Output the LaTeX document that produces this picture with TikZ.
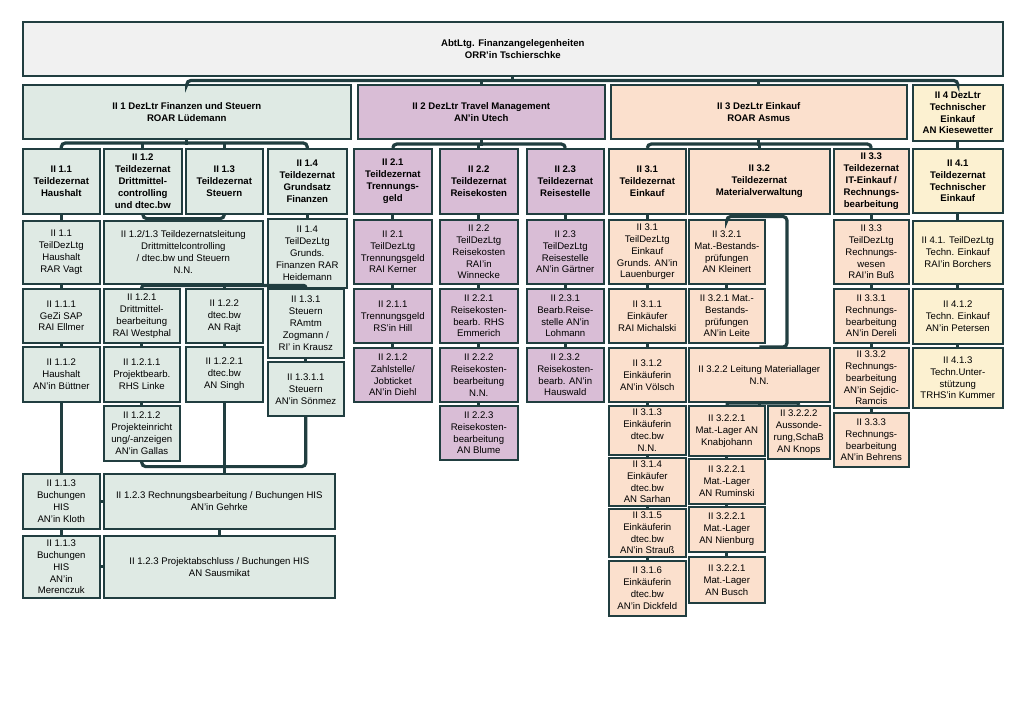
\documentclass[tikz,border=0pt]{standalone}
\usepackage{fontspec}
\setmainfont{Liberation Sans}
\usepackage{xcolor}

\definecolor{dk}{RGB}{33,62,64}
\definecolor{abtc}{RGB}{241,241,241}
\definecolor{fin}{RGB}{223,234,228}
\definecolor{trv}{RGB}{217,189,214}
\definecolor{eink}{RGB}{251,224,205}
\definecolor{tech}{RGB}{252,241,209}

\begin{document}
\begin{tikzpicture}[
	  x=1pt, y=-1pt,
	  %style for connecting lines
	  lnk/.style={line width=3.2pt, draw=dk, rounded corners=4pt},
      % basic style for boxes
      bx/.style={rectangle, draw=dk, line width=1.6pt, anchor=north west, align=center, inner sep=1pt, font=\fontsize{9.6}{11.9}\selectfont},
      % size of a box
      sz/.style 2 args={minimum width=#1, minimum height=#2},
      % bold text for heads
      hd/.style={font=\fontsize{9.6}{11.9}\selectfont\bfseries},
      % fills per Dezernat
      ab/.style={bx, fill=abtc},
      fs/.style={bx, fill=fin},
      tm/.style={bx, fill=trv},
      ek/.style={bx, fill=eink},
      te/.style={bx, fill=tech}]

      \path[fill=white] (0,0) rectangle (1024,724);

      % Abteilung and Dezernate
      \node[ab, hd, sz={980}{54}] (abtl) at (22,21) {AbtLtg. Finanzangelegenheiten\\ORR’in Tschierschke};
      \node[fs, hd, sz={328}{54}] (dz1) at (22,84) {II 1 DezLtr Finanzen und Steuern\\ROAR Lüdemann};
      \node[tm, hd, sz={247}{54}] (dz2) at (357,84) {II 2 DezLtr Travel Management\\AN’in Utech};
      \node[ek, hd, sz={296}{54}] (dz3) at (610,84) {II 3 DezLtr Einkauf\\ROAR Asmus};
      \node[te, hd, sz={90}{56}] (dz4) at (912,84) {II 4 DezLtr\\Technischer\\Einkauf\\AN Kiesewetter};

      % II 1
      \node[fs, hd, sz={77}{65}] (t11) at (22,148) {II 1.1\\Teildezernat\\Haushalt};
      \node[fs, hd, sz={78}{65}] (t12) at (103,148) {II 1.2\\Teildezernat\\Drittmittel-\\controlling\\und dtec.bw};
      \node[fs, hd, sz={77}{65}] (t13) at (185,148) {II 1.3\\Teildezernat\\Steuern};
      \node[fs, hd, sz={79}{65}] (t14) at (267,148) {II 1.4\\Teildezernat\\Grundsatz\\Finanzen};
      \node[fs, sz={77}{63}] (l11) at (22,220) {II 1.1\\TeilDezLtg\\Haushalt\\RAR Vagt};
      \node[fs, sz={159}{63}] (l123) at (103,220) {II 1.2/1.3 Teildezernatsleitung\\Drittmittelcontrolling\\/ dtec.bw und Steuern\\N.N.};
      \node[fs, sz={79}{69}] (l14) at (267,218) {II 1.4\\TeilDezLtg\\Grunds.\\Finanzen RAR\\Heidemann};
      \node[fs, sz={77}{54}] (s111) at (22,288) {II 1.1.1\\GeZi SAP\\RAI Ellmer};
      \node[fs, sz={76}{54}] (s121) at (103,288) {II 1.2.1\\Drittmittel-\\bearbeitung\\RAI Westphal};
      \node[fs, sz={77}{54}] (s122) at (185,288) {II 1.2.2\\dtec.bw\\AN Rajt};
      \node[fs, sz={76}{69}] (s131) at (267,288) {II 1.3.1\\Steuern\\RAmtm\\Zogmann /\\RI’ in Krausz};
      \node[fs, sz={77}{55}] (s112) at (22,346) {II 1.1.2\\Haushalt\\AN’in Büttner};
      \node[fs, sz={76}{55}] (s1211) at (103,346) {II 1.2.1.1\\Projektbearb.\\RHS Linke};
      \node[fs, sz={77}{55}] (s1221) at (185,346) {II 1.2.2.1\\dtec.bw\\AN Singh};
      \node[fs, sz={76}{54}] (s1311) at (267,361) {II 1.3.1.1\\Steuern\\AN’in Sönmez};
      \node[fs, sz={76}{55}] (s1212) at (103,405) {II 1.2.1.2\\Projekteinricht\\ung/-anzeigen\\AN’in Gallas};
      \node[fs, sz={77}{55}] (s113a) at (22,473) {II 1.1.3\\Buchungen\\HIS\\AN’in Kloth};
      \node[fs, sz={231}{55}] (s123a) at (103,473) {II 1.2.3 Rechnungsbearbeitung / Buchungen HIS\\AN’in Gehrke};
      \node[fs, sz={77}{62}] (s113b) at (22,535) {II 1.1.3\\Buchungen\\HIS\\AN’in\\Merenczuk};
      \node[fs, sz={231}{62}] (s123b) at (103,535) {II 1.2.3 Projektabschluss / Buchungen HIS\\AN Sausmikat};

      % II 2
      \node[tm, hd, sz={78}{65}] (t21) at (353,148) {II 2.1\\Teildezernat\\Trennungs-\\geld};
      \node[tm, hd, sz={78}{65}] (t22) at (439,148) {II 2.2\\Teildezernat\\Reisekosten};
      \node[tm, hd, sz={77}{65}] (t23) at (526,148) {II 2.3\\Teildezernat\\Reisestelle};
      \node[tm, sz={78}{64}] (l21) at (353,219) {II 2.1\\TeilDezLtg\\Trennungsgeld\\RAI Kerner};
      \node[tm, sz={78}{64}] (l22) at (439,219) {II 2.2\\TeilDezLtg\\Reisekosten\\RAI’in\\Winnecke};
      \node[tm, sz={77}{64}] (l23) at (526,219) {II 2.3\\TeilDezLtg\\Reisestelle\\AN’in Gärtner};
      \node[tm, sz={78}{54}] (s211) at (353,288) {II 2.1.1\\Trennungsgeld\\RS’in Hill};
      \node[tm, sz={78}{54}] (s221) at (439,288) {II 2.2.1\\Reisekosten-\\bearb. RHS\\Emmerich};
      \node[tm, sz={77}{54}] (s231) at (526,288) {II 2.3.1\\Bearb.Reise-\\stelle AN’in\\Lohmann};
      \node[tm, sz={78}{54}] (s212) at (353,347) {II 2.1.2\\Zahlstelle/\\Jobticket\\AN’in Diehl};
      \node[tm, sz={78}{54}] (s222) at (439,347) {II 2.2.2\\Reisekosten-\\bearbeitung\\N.N.};
      \node[tm, sz={77}{54}] (s232) at (526,347) {II 2.3.2\\Reisekosten-\\bearb. AN’in\\Hauswald};
      \node[tm, sz={78}{54}] (s223) at (439,405) {II 2.2.3\\Reisekosten-\\bearbeitung\\AN Blume};

      % II 3
      \node[ek, hd, sz={77}{65}] (t31) at (608,148) {II 3.1\\Teildezernat\\Einkauf};
      \node[ek, hd, sz={141}{65}] (t32) at (688,148) {II 3.2\\Teildezernat\\Materialverwaltung};
      \node[ek, hd, sz={75}{65}] (t33) at (833,148) {II 3.3\\Teildezernat\\IT-Einkauf /\\Rechnungs-\\bearbeitung};
      \node[ek, sz={77}{64}] (l31) at (608,219) {II 3.1\\TeilDezLtg\\Einkauf\\Grunds. AN’in\\Lauenburger};
      \node[ek, sz={76}{64}] (s321a) at (688,219) {II 3.2.1\\Mat.-Bestands-\\prüfungen\\AN Kleinert};
      \node[ek, sz={75}{64}] (l33) at (833,219) {II 3.3\\TeilDezLtg\\Rechnungs-\\wesen\\RAI’in Buß};
      \node[ek, sz={77}{54}] (s311) at (608,288) {II 3.1.1\\Einkäufer\\RAI Michalski};
      \node[ek, sz={76}{54}] (s321b) at (688,288) {II 3.2.1 Mat.-\\Bestands-\\prüfungen\\AN’in Leite};
      \node[ek, sz={75}{54}] (s331) at (833,288) {II 3.3.1\\Rechnungs-\\bearbeitung\\AN’in Dereli};
      \node[ek, sz={77}{54}] (s312) at (608,347) {II 3.1.2\\Einkäuferin\\AN’in Völsch};
      \node[ek, sz={141}{54}] (s322) at (688,347) {II 3.2.2 Leitung Materiallager\\N.N.};
      \node[ek, sz={75}{60}] (s332) at (833,347) {II 3.3.2\\Rechnungs-\\bearbeitung\\AN’in Sejdic-\\Ramcis};
      \node[ek, sz={77}{49}] (s313) at (608,405) {II 3.1.3\\Einkäuferin\\dtec.bw\\N.N.};
      \node[ek, sz={76}{50}] (s3221a) at (688,405) {II 3.2.2.1\\Mat.-Lager AN\\Knabjohann};
      \node[ek, sz={62}{53}] (s3222) at (767,405) {II 3.2.2.2\\Aussonde-\\rung,SchaB\\AN Knops};
      \node[ek, sz={75}{54}] (s333) at (833,412) {II 3.3.3\\Rechnungs-\\bearbeitung\\AN’in Behrens};
      \node[ek, sz={77}{48}] (s314) at (608,457) {II 3.1.4\\Einkäufer\\dtec.bw\\AN Sarhan};
      \node[ek, sz={76}{45}] (s3221b) at (688,458) {II 3.2.2.1\\Mat.-Lager\\AN Ruminski};
      \node[ek, sz={77}{48}] (s315) at (608,508) {II 3.1.5\\Einkäuferin\\dtec.bw\\AN’in Strauß};
      \node[ek, sz={76}{45}] (s3221c) at (688,506) {II 3.2.2.1\\Mat.-Lager\\AN Nienburg};
      \node[ek, sz={77}{55}] (s316) at (608,560) {II 3.1.6\\Einkäuferin\\dtec.bw\\AN’in Dickfeld};
      \node[ek, sz={76}{46}] (s3221d) at (688,556) {II 3.2.2.1\\Mat.-Lager\\AN Busch};

      % II 4
      \node[te, hd, sz={90}{64}] (t41) at (912,148) {II 4.1\\Teildezernat\\Technischer\\Einkauf};
      \node[te, sz={90}{63}] (l41) at (912,220) {II 4.1. TeilDezLtg\\Techn. Einkauf\\RAI’in Borchers};
      \node[te, sz={90}{55}] (s412) at (912,288) {II 4.1.2\\Techn. Einkauf\\AN’in Petersen};
      \node[te, sz={90}{60}] (s413) at (912,347) {II 4.1.3\\Techn.Unter-\\stützung\\TRHS’in Kummer};

      % lines from the top
      \draw[lnk] (abtl.south) -- ++(0,5.5);
      \draw[lnk] (dz1.north) -- ++(0,-3.5) -| (dz4.north);
      \draw[lnk] (dz2.north) -- ++(0,-3.5);
      \draw[lnk] (dz3.north) -- ++(0,-3.5);

      % lines II 1
      \draw[lnk] (dz1.south) -- ++(0,5);
      \draw[lnk] (t11.north) -- ++(0,-5) -| (t14.north);
      \draw[lnk] (t12.north) -- ++(0,-5);
      \draw[lnk] (t13.north) -- ++(0,-5);
      \draw[lnk] (t11.south) -- (l11.north);
      \draw[lnk] (t12.south) -- ++(0,4) -| (t13.south);
      \draw[lnk] (l123.north) -- ++(0,-3);
      \draw[lnk] (t14.south) -- (l14.north);
      \draw[lnk] (l11.south) -- (s111.north);
      \draw[lnk] (s111.south) -- (s112.north);
      \draw[lnk] (s112.south) -- (s113a.north);
      \draw[lnk] (s113a.south) -- (s113b.north);
      \draw[lnk] (l123.south) -- ++(0,2.5);
      \draw[lnk, rounded corners=2pt] (s121.north) -- ++(0,-2.5) -| (s131.north);
      \draw[lnk] (s122.north) -- ++(0,-2.5);
      \draw[lnk] (s121.south) -- (s1211.north);
      \draw[lnk] (s1211.south) -- (s1212.north);
      \draw[lnk] (s122.south) -- (s1221.north);
      \draw[lnk] (s131.south) -- (s1311.north);
      \draw[lnk] (s1212.south) -- ++(0,5) -| (s1311.south);
      \draw[lnk] (s1221.south) -- (s1221.south |- s123a.north);
      \draw[lnk] (s123a.south) -- (s123b.north);
      \draw[lnk] (s113a.east) -- (s123a.west);
      \draw[lnk] (s113b.east) -- (s123b.west);

      % lines II 2
      \draw[lnk] (dz2.south) -- ++(0,6);
      \draw[lnk] (t21.north) -- ++(0,-4) -| (t23.north);
      \draw[lnk] (t22.north) -- ++(0,-4);
      \draw[lnk] (t21.south) -- (l21.north);
      \draw[lnk] (l21.south) -- (s211.north);
      \draw[lnk] (s211.south) -- (s212.north);
      \draw[lnk] (t22.south) -- (l22.north);
      \draw[lnk] (l22.south) -- (s221.north);
      \draw[lnk] (s221.south) -- (s222.north);
      \draw[lnk] (s222.south) -- (s223.north);
      \draw[lnk] (t23.south) -- (l23.north);
      \draw[lnk] (l23.south) -- (s231.north);
      \draw[lnk] (s231.south) -- (s232.north);

      % lines II 3
      \coordinate (m32) at (787,216.5);
      \draw[lnk] (dz3.south) -- ++(0,6);
      \draw[lnk] (t31.north) -- ++(0,-4) -| (t33.north);
      \draw[lnk] (t32.north) -- ++(0,-4);
      \draw[lnk] (t32.south) -- ++(0,3.5);
      \draw[lnk] (s321a.north) |- (m32) |- (s322.north);
      \draw[lnk] (s321a.south) -- (s321b.north);
      \draw[lnk] (t31.south) -- (l31.north);
      \draw[lnk] (l31.south) -- (s311.north);
      \draw[lnk] (s311.south) -- (s312.north);
      \draw[lnk] (s312.south) -- (s313.north);
      \draw[lnk] (s313.south) -- (s314.north);
      \draw[lnk] (s314.south) -- (s315.north);
      \draw[lnk] (s315.south) -- (s316.north);
      \draw[lnk] (s322.south) -- ++(0,2);
      \draw[lnk, rounded corners=2pt] (s3221a.north) -- ++(0,-2) -| (s3222.north);
      \draw[lnk] (s3221a.south) -- (s3221b.north);
      \draw[lnk] (s3221b.south) -- (s3221c.north);
      \draw[lnk] (s3221c.south) -- (s3221d.north);
      \draw[lnk] (t33.south) -- (l33.north);
      \draw[lnk] (l33.south) -- (s331.north);
      \draw[lnk] (s331.south) -- (s332.north);
      \draw[lnk] (s332.south) -- (s333.north);

      % lines II 4
      \draw[lnk] (dz4.south) -- (t41.north);
      \draw[lnk] (t41.south) -- (l41.north);
      \draw[lnk] (l41.south) -- (s412.north);
      \draw[lnk] (s412.south) -- (s413.north);

\end{tikzpicture}
\end{document}
